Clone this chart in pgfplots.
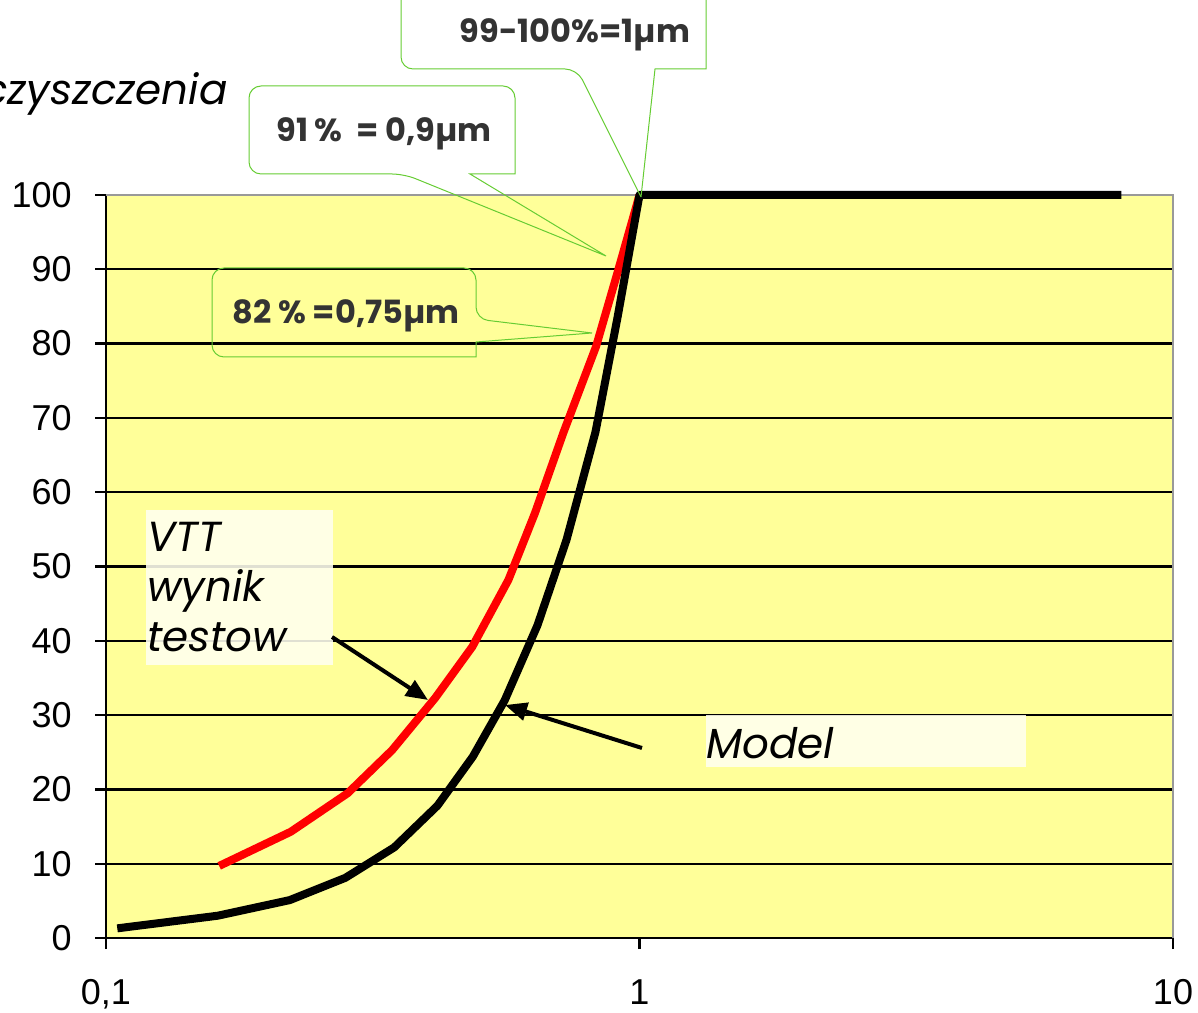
\documentclass[border=0pt]{standalone}
\usepackage{pgfplots}
\pgfplotsset{compat=1.18}
\usepackage{pgfplotstable}
\usepackage{fontspec}
\setmainfont{Liberation Sans}
\newfontfamily\gothic{Poppins}
\usetikzlibrary{arrows.meta}
\definecolor{bgyellow}{HTML}{FFFF99}
\definecolor{callgreen}{HTML}{66CC33}
\definecolor{ivory}{HTML}{FFFFF0}
\definecolor{txtgray}{HTML}{333333}

\pgfplotstableread{
x y
0.105 1.3
0.162 3.0
0.221 5.1
0.281 8.1
0.347 12.2
0.418 17.8
0.487 24.4
0.559 32.0
0.644 42.1
0.730 53.6
0.827 68.1
0.910 83.6
1.0 100
8.0 100
}\model

\pgfplotstableread{
x y
0.163 9.7
0.222 14.3
0.284 19.5
0.344 25.3
0.414 32.3
0.486 39.2
0.568 48.2
0.637 57.2
0.720 68.0
0.829 79.6
0.909 89.5
1.0 100
}\vtt

\begin{document}
\begin{tikzpicture}
\useasboundingbox (0,0) rectangle (599pt,506pt);
\clip (0,0) rectangle (599pt,506pt);
\begin{axis}[
  scale only axis,
  width=533.5pt, height=371.5pt,
  at={(53pt,37pt)}, anchor=south west,
  xmode=log, xmin=0.1, xmax=10, ymin=0, ymax=100,
  clip=false,
  axis lines=left,
  axis line style={-, black, line width=1.2pt},
  axis background/.style={fill=bgyellow},
  xtick={0.1,1,10}, xticklabels={{0,1},1,10},
  xminorticks=false,
  ytick={0,10,...,100},
  ymajorgrids,
  grid style={black, line width=1.1pt},
  tick style={black, line width=1.1pt},
  major tick length=5.5pt,
  tick align=outside,
  /pgf/number format/assume math mode=true,
  tick label style={font=\fontsize{18}{20}\selectfont},
  yticklabel style={anchor=east, inner sep=0pt, xshift=-11.5pt},
  xticklabel style={anchor=north, inner sep=0pt, yshift=-15pt},
]
\draw[gray!80, line width=1.2pt] (rel axis cs:0,1) -- (rel axis cs:1,1) -- (rel axis cs:1,0);
\addplot[red, line width=4pt, line join=round, mark=none] table {\vtt};
\addplot[black, line width=4pt, line join=round, mark=none] table {\model};
\end{axis}
\begin{scope}[x=0.5pt,y=-0.5pt,yshift=506pt]
  % callouts
  \draw[callgreen, line width=0.5pt] (641,197) -- (655,69) -- (706,69) [rounded corners=6pt] -- (706,-30) -- (401,-30) -- (401,69) -- (577,69) [sharp corners] -- (641,197);
  \draw[callgreen, line width=0.5pt] (606,256) -- (470,174) -- (515,174) [rounded corners=6pt] -- (515,86) -- (249,86) -- (249,174) -- (404,174) [sharp corners] -- (606,256);
  \draw[callgreen, line width=0.5pt] (592,333) -- (476,342) -- (476,357) [rounded corners=6pt] -- (212,357) -- (212,268) -- (476,268) -- (476,319) [sharp corners] -- (592,333);
  \begin{scope}[every node/.style={anchor=base, inner sep=0pt, text=txtgray, font=\gothic\bfseries\fontsize{16}{18}\selectfont}]
    \node at (575,43) {99-100\%=1µm};
    \node at (384,142) {91 \%\ \ = 0,9µm};
    \node at (346,324) {82 \% =0,75µm};
  \end{scope}
  % italic labels
  \begin{scope}[every node/.style={inner sep=0pt, text=black, font=\gothic\itshape\fontsize{21}{25}\selectfont}]
    \node[anchor=base east] at (228,105) {czyszczenia};
    \fill[ivory, fill opacity=0.88] (146,510) rectangle (333,665);
    \node[anchor=base west] at (147,552) {VTT};
    \node[anchor=base west] at (147,602) {wynik};
    \node[anchor=base west] at (147,652) {testow};
    \fill[ivory, fill opacity=0.88] (706,715) rectangle (1026,767);
    \node[anchor=base west] at (706,758) {Model};
  \end{scope}
  % arrows
  \draw[line width=2pt, -{Triangle[length=11pt,width=9pt]}] (332,637) -- (428,700);
  \draw[line width=2pt, -{Triangle[length=11pt,width=9pt]}] (642,748) -- (505,705);
\end{scope}
\end{tikzpicture}
\end{document}
